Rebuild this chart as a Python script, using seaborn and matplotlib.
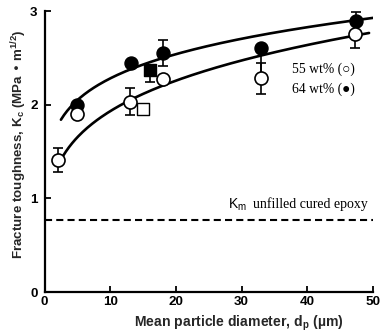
import numpy as np
import pandas as pd
import matplotlib
matplotlib.use("Agg")
import matplotlib.pyplot as plt
import seaborn as sns

# Measured fracture toughness (MPa m^1/2) vs mean particle diameter (um)
d_55 = [2, 5, 13, 18, 33, 47.3]
k_55 = [1.41, 1.90, 2.03, 2.27, 2.28, 2.75]
err_55 = [0.13, 0.0, 0.145, 0.0, 0.17, 0.14]

d_64 = [5, 13.2, 18, 33, 47.4]
k_64 = [2.00, 2.45, 2.55, 2.60, 2.89]
err_64_lo = [0.0, 0.0, 0.14, 0.30, 0.10]
err_64_hi = [0.0, 0.0, 0.14, 0.0, 0.10]

# Additional single measurements (square symbols)
d_sq_open, k_sq_open = [15.0], [1.95]
d_sq_fill, k_sq_fill = [16.0], [2.37]
err_sq_fill_lo, err_sq_fill_hi = [0.13], [0.0]

# Unfilled cured epoxy reference level
k_matrix = 0.77

# Power-law trend lines K = A * d^p
fit_64 = dict(A=1.596, p=0.155, d_min=2.5, d_max=50.0)
fit_55 = dict(A=1.15, p=0.225, d_min=2.8, d_max=49.4)

sns.set_theme(style="ticks")
plt.rcParams["font.family"] = ["Liberation Sans", "DejaVu Sans"]

fig = plt.figure(figsize=(3.89, 3.33), dpi=100)
ax = fig.add_axes([0.1144, 0.1231, 0.8445, 0.8438])

def trend(fit):
    d = np.linspace(fit["d_min"], fit["d_max"], 200)
    return pd.DataFrame({"d": d, "K": fit["A"] * d ** fit["p"]})

for fit in (fit_64, fit_55):
    sns.lineplot(data=trend(fit), x="d", y="K", color="black", lw=1.9,
                 ax=ax, zorder=2)

ax.axhline(k_matrix, xmin=0, xmax=1, color="black", lw=1.5,
           linestyle=(0, (3.4, 2.0)), zorder=1)

ekw = dict(fmt="none", ecolor="black", elinewidth=1.2, capsize=3.6,
           capthick=1.2, zorder=3)
ax.errorbar(d_64, k_64, yerr=[err_64_lo, err_64_hi], **ekw)
ax.errorbar(d_55, k_55, yerr=err_55, **ekw)
ax.errorbar(d_sq_fill, k_sq_fill, yerr=[err_sq_fill_lo, err_sq_fill_hi], **ekw)

sns.scatterplot(x=d_sq_fill, y=k_sq_fill, marker="s", s=68, color="black",
                edgecolor="black", linewidth=1.0, ax=ax, zorder=4)
sns.scatterplot(x=d_sq_open, y=k_sq_open, marker="s", s=68, color="white",
                edgecolor="black", linewidth=1.0, ax=ax, zorder=4)
sns.scatterplot(x=d_64, y=k_64, marker="o", s=88, color="black",
                edgecolor="black", linewidth=1.0, ax=ax, zorder=5)
sns.scatterplot(x=d_55, y=k_55, marker="o", s=88, color="white",
                edgecolor="black", linewidth=1.2, ax=ax, zorder=6)

ax.set_xlim(0, 50)
ax.set_ylim(0, 3)
ax.set_xticks([0, 10, 20, 30, 40, 50])
ax.set_yticks([0, 1, 2, 3])
for s in ("top", "right"):
    ax.spines[s].set_visible(False)
for s in ("left", "bottom"):
    ax.spines[s].set_linewidth(1.6)
    ax.spines[s].set_color("black")
ax.tick_params(direction="in", length=4.5, width=1.3, colors="black",
               labelsize=9.7)
ax.tick_params(axis="x", pad=3)
ax.tick_params(axis="y", pad=5)
for lab in ax.get_xticklabels() + ax.get_yticklabels():
    lab.set_fontweight("bold")

ax.set_xlabel("Mean particle diameter, d$_\\mathregular{p}$ (\u00b5m)",
              fontsize=10.1, fontweight="bold")
ax.set_ylabel("Fracture toughness, K$_\\mathregular{c}$ (MPa \u2022 m$^\\mathregular{1/2}$)",
              fontsize=9.6, fontweight="bold")
ax.xaxis.set_label_coords(0.593, -0.077)
ax.yaxis.set_label_coords(-0.046, 0.527)

serif = ["Liberation Serif", "DejaVu Sans"]
ax.text(37.6, 2.38, "55 wt% (\u25cb)", family=serif, fontsize=9.8,
        ha="left", va="center", color="black")
ax.text(37.7, 2.17, "64 wt% (\u25cf)", family=serif, fontsize=9.8,
        ha="left", va="center", color="black")
ax.text(28.0, 0.93, "K$_\\mathregular{m}$", fontsize=10, ha="left",
        va="center", color="black")
ax.text(31.8, 0.94, "unfilled cured epoxy", family=serif, fontsize=10,
        ha="left", va="center", color="black")

fig.savefig("out.png", dpi=100)
